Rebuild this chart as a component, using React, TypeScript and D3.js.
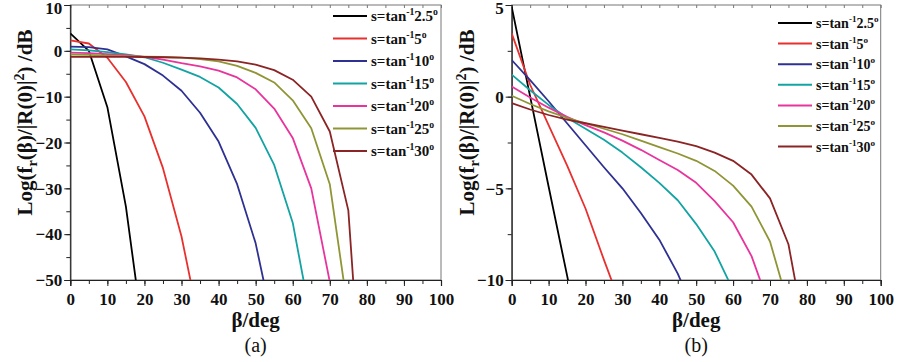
import { useEffect, useRef } from "react";
import * as d3 from "d3";

// beta sampled every 5 deg from 0
const betaStep = 5;
const slopeLabels = ["2.5", "5", "10", "15", "20", "25", "30"];
const colors = ["#000000", "#e8312f", "#2e3192", "#13a3a3", "#e8349c", "#8f9535", "#8b2424"];

// panel (a), dB
const seriesA = [
  [3.8, 0.0, -12.3, -34, -64],
  [2.3, 1.6, -1.5, -6.8, -14.3, -25.6, -40.5, -60.3],
  [0.9, 0.8, 0.3, -1.2, -2.9, -5.4, -8.7, -13.5, -19.8, -29.1, -42, -61],
  [0.3, 0.1, -0.3, -0.8, -1.4, -2.6, -4.1, -5.7, -8.0, -11.6, -16.8, -24.9, -37.5, -59],
  [-0.4, -0.5, -0.7, -0.95, -1.3, -1.9, -2.7, -3.4, -4.3, -5.8, -8.4, -12.6, -19, -30, -50.4, -70],
  [-0.8, -0.9, -1.05, -1.15, -1.25, -1.35, -1.5, -1.8, -2.3, -3.3, -4.8, -6.9, -10.8, -16.9, -29.1, -57.3],
  [-1.3, -1.3, -1.3, -1.3, -1.35, -1.4, -1.5, -1.65, -1.9, -2.3, -3.0, -4.2, -6.3, -10.0, -17.6, -34.8, -93],
];

// panel (b), dB
const seriesB = [
  [4.9, 0.0, -4.9, -9.75, -14.6],
  [3.45, 0.65, -1.55, -3.75, -6.1, -8.9, -11.6],
  [2.0, 0.9, -0.25, -1.45, -2.65, -3.85, -5.0, -6.35, -7.8, -9.65, -12.0],
  [1.2, 0.35, -0.45, -1.15, -1.75, -2.35, -3.05, -3.85, -4.7, -5.65, -6.95, -8.45, -10.55],
  [0.55, -0.05, -0.6, -1.1, -1.55, -1.95, -2.4, -2.9, -3.45, -4.0, -4.7, -5.7, -6.85, -8.7, -11.5],
  [0.05, -0.4, -0.8, -1.15, -1.45, -1.75, -2.05, -2.4, -2.75, -3.1, -3.5, -4.05, -4.85, -6.0, -7.9, -11.4],
  [-0.35, -0.7, -1.0, -1.25, -1.45, -1.65, -1.85, -2.05, -2.25, -2.45, -2.7, -3.05, -3.5, -4.25, -5.55, -8.05, -13.5],
];

const font = "'Liberation Serif', 'Times New Roman', serif";

interface PanelProps {
  id: string;
  series: number[][];
  x0: number;
  x1: number;
  yDomain: [number, number];
  yMajor: number;
  legendX: number;
  legendY: number;
  legendGap: number;
  legendSize: number;
  caption: string;
}

const Panel = ({ id, series, x0, x1, yDomain, yMajor, legendX, legendY, legendGap, legendSize, caption }: PanelProps) => {
  const gRef = useRef<SVGGElement>(null);

  useEffect(() => {
    if (!gRef.current) return;
    const g = d3.select(gRef.current);
    g.selectAll("*").remove();

    const top = 5;
    const bottom = 280;
    const x = d3.scaleLinear().domain([0, 100]).range([x0, x1]);
    const y = d3.scaleLinear().domain(yDomain).range([bottom, top]);

    g.append("clipPath").attr("id", `clip-${id}`)
      .append("rect").attr("x", x0).attr("y", top).attr("width", x1 - x0).attr("height", bottom - top);

    // frame
    g.append("rect")
      .attr("x", x0).attr("y", top).attr("width", x1 - x0).attr("height", bottom - top)
      .attr("fill", "none").attr("stroke", "#777").attr("stroke-width", 1);

    const xMinor = d3.range(0, 101, 5);
    const yMinor = d3.range(yDomain[0], yDomain[1] + 0.001, yMajor / 2);

    // minor ticks
    const xa = g.append("g").attr("transform", `translate(0,${bottom})`)
      .call(d3.axisBottom(x).tickValues(xMinor).tickSize(4).tickFormat(() => ""));
    xa.select(".domain").remove();
    const ya = g.append("g").attr("transform", `translate(${x0},0)`)
      .call(d3.axisLeft(y).tickValues(yMinor).tickSize(4).tickFormat(() => ""));
    ya.select(".domain").remove();
    const xt = g.append("g").attr("transform", `translate(0,${top})`)
      .call(d3.axisBottom(x).tickValues(xMinor).tickSize(3).tickFormat(() => ""));
    xt.select(".domain").remove();
    xt.selectAll("line").attr("stroke", "#777");

    // major ticks + labels
    const xAxis = g.append("g").attr("transform", `translate(0,${bottom})`)
      .call(d3.axisBottom(x).tickValues(d3.range(0, 101, 10)).tickSize(6).tickPadding(4));
    const yAxis = g.append("g").attr("transform", `translate(${x0},0)`)
      .call(d3.axisLeft(y).ticks((yDomain[1] - yDomain[0]) / yMajor).tickSize(6).tickPadding(2));
    [xAxis, yAxis, xa, ya].forEach(a => {
      a.selectAll("line").attr("stroke", "#222").attr("stroke-width", 1);
      a.select(".domain").attr("stroke", "#222").attr("stroke-width", 1.2);
      a.selectAll("text")
        .attr("font-family", font).attr("font-weight", "bold").attr("font-size", 17).attr("fill", "#111");
    });
    xAxis.selectAll("text").attr("dy", "0.88em");
    // top label sits against the page edge, nudge it down so it stays whole
    yAxis.selectAll<SVGTextElement, number>("text")
      .attr("dy", d => (d === yDomain[1] ? "0.5em" : "0.34em"));

    // curves
    const line = d3.line<number>()
      .x((_, i) => x(i * betaStep))
      .y(d => y(d));
    g.append("g").attr("clip-path", `url(#clip-${id})`)
      .selectAll("path")
      .data(series)
      .join("path")
      .attr("d", d => line(d))
      .attr("fill", "none")
      .attr("stroke", (_, i) => colors[i])
      .attr("stroke-width", 1.8)
      .attr("stroke-linejoin", "round");

    // legend
    const lg = g.append("g");
    slopeLabels.forEach((s, i) => {
      const cy = legendY + i * legendGap;
      lg.append("line")
        .attr("x1", legendX).attr("x2", legendX + 34)
        .attr("y1", cy).attr("y2", cy)
        .attr("stroke", colors[i]).attr("stroke-width", 2);
      const t = lg.append("text")
        .attr("x", legendX + 38).attr("y", cy + 5)
        .attr("font-family", font).attr("font-weight", "bold").attr("font-size", legendSize).attr("fill", "#111");
      t.append("tspan").text("s=tan");
      t.append("tspan").attr("dy", -6).attr("font-size", legendSize * 0.65).text("-1");
      t.append("tspan").attr("dy", 6).text(s);
      t.append("tspan").attr("dy", -6).attr("font-size", legendSize * 0.65).text("o");
    });

    // axis titles
    const cx = (x0 + x1) / 2;
    g.append("text")
      .attr("x", cx).attr("y", 327).attr("text-anchor", "middle")
      .attr("font-family", font).attr("font-weight", "bold").attr("font-size", 21).attr("fill", "#111")
      .text("β/deg");
    g.append("text")
      .attr("x", cx).attr("y", 352).attr("text-anchor", "middle")
      .attr("font-family", font).attr("font-size", 20).attr("fill", "#111")
      .text(caption);

    const yl = g.append("text")
      .attr("transform", `translate(${x0 - 38},${(top + bottom) / 2 - 20}) rotate(-90)`)
      .attr("text-anchor", "middle")
      .attr("font-family", font).attr("font-weight", "bold").attr("font-size", 21).attr("fill", "#111");
    yl.append("tspan").text("Log(f");
    yl.append("tspan").attr("dy", 5).attr("font-size", 14).text("r");
    yl.append("tspan").attr("dy", -5).text("(β)/|R(0)|");
    yl.append("tspan").attr("dy", -8).attr("font-size", 14).text("2");
    yl.append("tspan").attr("dy", 8).text(") /dB");
  }, [id, series, x0, x1, yDomain, yMajor, legendX, legendY, legendGap, legendSize, caption]);

  return <g ref={gRef} />;
};

export default function App() {
  return (
    <svg
      width={898}
      height={362}
      style={{ position: "absolute", left: 0, top: 0, background: "#fff" }}
    >
      <Panel id="a" series={seriesA} x0={70.3} x1={441} yDomain={[-50, 10]} yMajor={10}
        legendX={333} legendY={16} legendGap={22.5} legendSize={15} caption="(a)" />
      <Panel id="b" series={seriesB} x0={511.7} x1={880.7} yDomain={[-10, 5]} yMajor={5}
        legendX={778} legendY={23} legendGap={20.6} legendSize={14} caption="(b)" />
    </svg>
  );
}
